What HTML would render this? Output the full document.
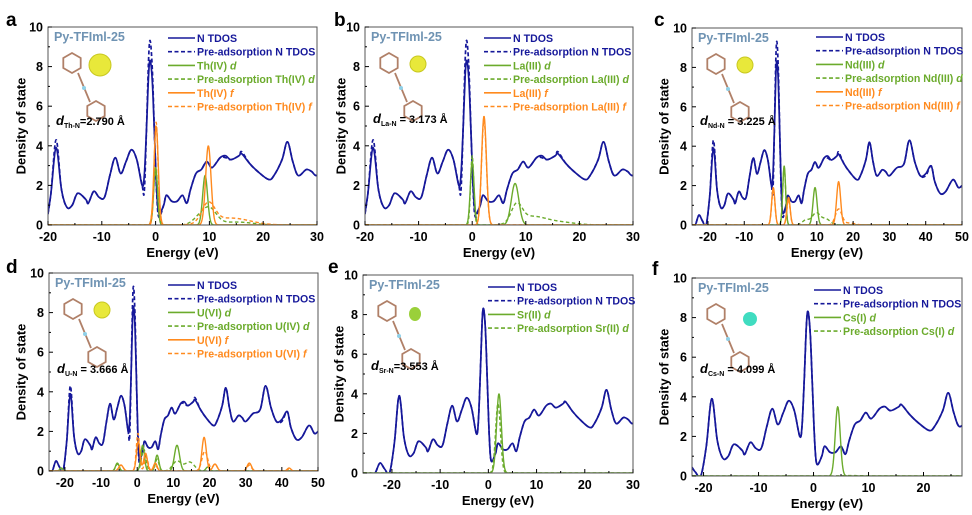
<!DOCTYPE html>
<html><head><meta charset="utf-8">
<style>
html,body{margin:0;padding:0;background:#fff;}
svg{display:block;font-family:"Liberation Sans",Arial,sans-serif;}
text{font-weight:bold;}
</style></head>
<body>
<svg id="fig" width="972" height="515" viewBox="0 0 972 515" xmlns="http://www.w3.org/2000/svg"></svg>
<script>
// ---- shared N TDOS data (energy in eV, density of state) ----
const energies = [-24.5,-23.5,-22.5,-21.5,-20.5,-19.5,-18.5,-17.5,-16.5,-15.5,
-14.5,-13,-12.5,-11.5,-10.5,-9.5,-8.5,-7.5,-6.5,-5.5,
-4.5,-3.5,-2.5,-2.1,-1.7,-1.3,-1,-0.6,-0.2,0.2,0.6,1.5,
2,3,4,5,5.8,6.5,7.5,8.5,9.5,10.5,
12,13,14,15.5,16,17.5,19,21,22,23.5,
24.5,25.5,26.5,28,29,30,32,34,35.5,37,
38.5,40,41.5,42.5,44,45.5,47.5,49,50];
const tdos = [0,0,0.5,0.2,0,1.5,3.9,1.8,0.9,1.0,
1.6,1.3,1.1,1.7,1.4,1.4,2.5,3.4,2.6,3.2,
3.8,3.3,2.0,2.5,4.8,7.6,8.3,7.2,4.5,1.8,0.6,1.0,
1.5,1.2,1.2,1.5,1.1,1.8,2.6,2.8,3.2,2.9,
3.4,3.5,3.3,3.5,3.6,3.1,2.7,2.3,2.5,3.3,
4.2,3.2,2.5,2.8,2.7,2.5,2.9,3.1,4.3,3.2,
2.5,2.6,3.0,2.2,1.6,1.7,2.3,1.9,2.0];
const preTdos = [0,0,0.5,0.2,0,1.5,4.3,1.8,0.9,1.0,
1.6,1.3,1.1,1.7,1.4,1.4,2.5,3.4,2.6,3.2,
3.8,3.3,2.0,1.7,4.8,8.4,9.3,7.8,4.5,1.6,0.4,1.0,
1.5,1.2,1.2,1.5,1.1,1.8,2.6,2.8,3.2,2.9,
3.4,3.4,3.3,3.5,3.7,3.1,2.7,2.3,2.5,3.3,
4.2,3.2,2.5,2.8,2.7,2.5,2.9,3.1,4.3,3.2,
2.5,2.5,3.0,2.2,1.6,1.7,2.3,1.9,2.0];
const yTicks = [0,2,4,6,8,10];
const xTicksA = [-20,-10,0,10,20,30];
const xTicksC = [-20,-10,0,10,20,30,40,50];
const xTicksF = [-20,-10,0,10,20];
// ---- PDOS peaks: [center eV, height, width eV] ----
const thD = [[0,2.9,0.35],[9.2,2.5,0.45]];
const thDPre = [[0,2.7,0.4],[8,0.3,1.2],[10,0.8,1.3],[15,0.15,3]];
const thF = [[0.1,5.0,0.4],[9.8,4.0,0.5]];
const thFPre = [[0.1,5.2,0.35],[9.8,1.0,1.2],[14,0.35,3.5]];
const laD = [[0,3.2,0.35],[8,2.1,0.7]];
const laDPre = [[0,3.5,0.3],[8.3,0.9,1.0],[11,0.4,2.5],[16,0.15,3]];
const laF = [[2.2,5.5,0.45]];
const laFPre = [[2.2,5.3,0.45]];
const ndD = [[1,3.0,0.4],[9.5,1.9,0.55]];
const ndDPre = [[1,2.9,0.4],[7,0.25,1],[9.8,0.6,1.1],[12.5,0.3,1.2]];
const ndF = [[-2,1.9,0.45],[2.2,1.4,0.45],[16,2.2,0.55]];
const ndFPre = [[-2,1.8,0.45],[2.2,1.3,0.45],[16,0.8,0.9],[19,0.1,1.5]];
const uD = [[-21,0.15,0.4],[-5.5,0.4,0.5],[1.5,1.3,0.5],[5.5,0.8,0.5],[11,1.3,0.7],[19.5,0.2,0.5]];
const uDPre = [[-21,0.15,0.4],[-5.5,0.35,0.5],[1.8,1.1,0.6],[5.5,0.6,0.5],[11,0.5,1.2],[14.5,0.45,1.3]];
const uF = [[-4.5,0.3,0.6],[0.3,1.5,0.5],[2.3,0.9,0.5],[5,0.4,0.5],[18.5,1.7,0.6],[21.5,0.35,0.6],[31,0.4,0.6],[42,0.15,0.5]];
const uFPre = [[-4.5,0.3,0.6],[0.2,1.9,0.45],[2.5,0.7,0.5],[5,0.3,0.5],[18.7,1.0,0.8],[21.5,0.35,0.6],[31,0.3,0.6],[42,0.1,0.5]];
const srD = [[2.2,4.0,0.5]];
const srDPre = [[2.0,3.5,0.5]];
const csD = [[4.4,3.5,0.45]];
const csDPre = [[7,0.02,2]];

const NAVY="#16189a", GREEN="#6bab2c", ORANGE="#ff8a1e";
const NS="http://www.w3.org/2000/svg";
const svg=document.getElementById('fig');
function mk(tag,attrs,parent){const e=document.createElementNS(NS,tag);for(const k in attrs)e.setAttribute(k,attrs[k]);(parent||svg).appendChild(e);return e;}

function smoothPath(pts){
  let d="M"+pts[0][0].toFixed(2)+","+pts[0][1].toFixed(2);
  for(let i=0;i<pts.length-1;i++){
    const p0=pts[Math.max(0,i-1)],p1=pts[i],p2=pts[i+1],p3=pts[Math.min(pts.length-1,i+2)];
    const c1=[p1[0]+(p2[0]-p0[0])/6,p1[1]+(p2[1]-p0[1])/6];
    const c2=[p2[0]-(p3[0]-p1[0])/6,p2[1]-(p3[1]-p1[1])/6];
    d+="C"+c1[0].toFixed(2)+","+c1[1].toFixed(2)+" "+c2[0].toFixed(2)+","+c2[1].toFixed(2)+" "+p2[0].toFixed(2)+","+p2[1].toFixed(2);
  }
  return d;
}

const panels=[
 {id:'a',L:48,R:317,T:27,B:225,x0:-20,x1:30,ticks:xTicksA,letter:[6,26],ytx:22,
  metal:'Th',sub:'Th-N',dist:'=2.790 Å',dy:98,
  series:[['N TDOS',NAVY,false,'tdos',tdos],['Pre-adsorption N TDOS',NAVY,true,'tdos',preTdos],
   ['Th(IV) ',GREEN,false,'d',thD],['Pre-adsorption Th(IV) ',GREEN,true,'d',thDPre],
   ['Th(IV) ',ORANGE,false,'f',thF],['Pre-adsorption Th(IV) ',ORANGE,true,'f',thFPre]],
  leg:[120,11]},
 {id:'b',L:365,R:633,T:27,B:225,x0:-20,x1:30,ticks:xTicksA,letter:[334,26],ytx:342,
  metal:'La',sub:'La-N',dist:' = 3.173 Å',dy:96,
  series:[['N TDOS',NAVY,false,'tdos',tdos],['Pre-adsorption N TDOS',NAVY,true,'tdos',preTdos],
   ['La(III) ',GREEN,false,'d',laD],['Pre-adsorption La(III) ',GREEN,true,'d',laDPre],
   ['La(III) ',ORANGE,false,'f',laF],['Pre-adsorption La(III) ',ORANGE,true,'f',laFPre]],
  leg:[119,11]},
 {id:'c',L:692,R:962,T:28,B:225,x0:-24.4,x1:50,ticks:xTicksC,letter:[654,26],ytx:665,
  metal:'Nd',sub:'Nd-N',dist:' = 3.225 Å',dy:97,
  series:[['N TDOS',NAVY,false,'tdos',tdos],['Pre-adsorption N TDOS',NAVY,true,'tdos',preTdos],
   ['Nd(III) ',GREEN,false,'d',ndD],['Pre-adsorption Nd(III) ',GREEN,true,'d',ndDPre],
   ['Nd(III) ',ORANGE,false,'f',ndF],['Pre-adsorption Nd(III) ',ORANGE,true,'f',ndFPre]],
  leg:[124,9]},
 {id:'d',L:49,R:318,T:273,B:471,x0:-24.4,x1:50,ticks:xTicksC,letter:[6,273],ytx:22,
  metal:'U',sub:'U-N',dist:' = 3.666 Å',dy:100,
  series:[['N TDOS',NAVY,false,'tdos',tdos],['Pre-adsorption N TDOS',NAVY,true,'tdos',preTdos],
   ['U(VI) ',GREEN,false,'d',uD],['Pre-adsorption U(IV) ',GREEN,true,'d',uDPre],
   ['U(VI) ',ORANGE,false,'f',uF],['Pre-adsorption U(VI) ',ORANGE,true,'f',uFPre]],
  leg:[119,12]},
 {id:'e',L:363,R:633,T:275,B:473,x0:-26,x1:30,ticks:xTicksA,letter:[328,273],ytx:340,
  metal:'Sr',sub:'Sr-N',dist:'=3.553 Å',dy:95,
  series:[['N TDOS',NAVY,false,'tdos',tdos],['Pre-adsorption N TDOS',NAVY,true,'tdos',tdos],
   ['Sr(II) ',GREEN,false,'d',srD],['Pre-adsorption Sr(II) ',GREEN,true,'d',srDPre]],
  leg:[125,12]},
 {id:'f',L:692,R:962,T:278,B:476,x0:-22.1,x1:27,ticks:xTicksF,letter:[652,275],ytx:665,
  metal:'Cs',sub:'Cs-N',dist:' = 4.099 Å',dy:95,
  series:[['N TDOS',NAVY,false,'tdos',tdos],['Pre-adsorption N TDOS',NAVY,true,'tdos',tdos],
   ['Cs(I) ',GREEN,false,'d',csD],['Pre-adsorption Cs(I) ',GREEN,true,'d',csDPre]],
  leg:[122,12]}
];

panels.forEach(P=>{
  const g=mk('g',{});
  
  
  const sx=v=>P.L+(v-P.x0)/(P.x1-P.x0)*(P.R-P.L);
  const sy=v=>P.B-v/10*(P.B-P.T);
  const clipId='clip'+P.id;
  const cp=mk('clipPath',{id:clipId},g);
  mk('rect',{x:P.L,y:P.T-6,width:P.R-P.L,height:P.B-P.T+6},cp);

  const lt=mk('text',{x:P.letter[0],y:P.letter[1],'font-size':19,fill:'#000'},g);
  lt.textContent=P.id;
  
  

  const sg=mk('g',{'clip-path':'url(#'+clipId+')'},g);
  P.series.forEach((s,i)=>{
    let d;
    if(s[3]==='tdos'){
      const pts=[];
      for(let k=0;k<energies.length;k++) pts.push([sx(energies[k]),sy(s[4][k])]);
      d=smoothPath(pts);
    } else {
      const peaks=s[4];
      d="";
      for(let x=P.x0;x<=P.x1+0.001;x+=0.08){
        let y=0;peaks.forEach(p=>{y+=p[1]*Math.exp(-0.5*((x-p[0])/p[2])**2);});
        d+=(d?"L":"M")+sx(x).toFixed(2)+","+sy(y).toFixed(2);
      }
    }
    const path=mk('path',{d:d,fill:'none',stroke:s[1],'stroke-width':s[3]==='tdos'?1.7:1.4,'stroke-dasharray':s[2]?(s[3]==='tdos'?'4,2.5':'3.5,2.5'):'none','stroke-linejoin':'round'},sg);
    
    
  });

  const fr=mk('rect',{x:P.L,y:P.T,width:P.R-P.L,height:P.B-P.T,fill:'none',stroke:'#555','stroke-width':1},g);
  
  
  yTicks.forEach(v=>{
    mk('line',{x1:P.L,x2:P.L+4,y1:sy(v),y2:sy(v),stroke:'#000','stroke-width':1},g);
    if(v<10) mk('line',{x1:P.L,x2:P.L+2,y1:sy(v+1),y2:sy(v+1),stroke:'#000','stroke-width':1},g);
    const t=mk('text',{x:P.L-5,y:sy(v)+4.5,'font-size':12.5,'text-anchor':'end',fill:'#000'},g);
    t.textContent=v;
    
    
  });
  P.ticks.forEach(v=>{
    mk('line',{x1:sx(v),x2:sx(v),y1:P.B,y2:P.B-4,stroke:'#000','stroke-width':1},g);
    if(sx(v+5)<P.R) mk('line',{x1:sx(v+5),x2:sx(v+5),y1:P.B,y2:P.B-2,stroke:'#000','stroke-width':1},g);
    const t=mk('text',{x:sx(v),y:P.B+16,'font-size':12.5,'text-anchor':'middle',fill:'#000'},g);
    t.textContent=v;
    
    
  });
  const xt=mk('text',{x:(P.L+P.R)/2,y:P.B+32,'font-size':13,'text-anchor':'middle',fill:'#000'},g);
  xt.textContent='Energy (eV)';
  
  
  const cy=(P.T+P.B)/2;
  const yt=mk('text',{x:P.ytx,y:cy,'font-size':13,'text-anchor':'middle',fill:'#000',transform:'rotate(-90 '+P.ytx+' '+cy+')','dominant-baseline':'middle'},g);
  yt.textContent='Density of state';
  
  

  const tt=mk('text',{x:P.L+6,y:P.T+14,'font-size':12.5,fill:'#6f93b3'},g);
  tt.textContent='Py-TFIml-25';
  
  

  const mg=mk('g',{},g);
  
  
  const hx=(cx,cy2,r)=>{let p=[];for(let k=0;k<6;k++){const a=Math.PI/6+k*Math.PI/3;p.push((cx+r*Math.cos(a)).toFixed(1)+','+(cy2+r*Math.sin(a)).toFixed(1));}return p.join(' ');};
  const ox=P.L+24, oy=P.T+30;
  mk('polygon',{points:hx(ox,oy+6,10),fill:'none',stroke:'#b08068','stroke-width':1.8},mg);
  mk('polygon',{points:hx(ox+24,oy+54,10),fill:'none',stroke:'#b08068','stroke-width':1.8},mg);
  mk('line',{x1:ox+6,y1:oy+16,x2:ox+18,y2:oy+45,stroke:'#b08068','stroke-width':1.8},mg);
  mk('circle',{cx:ox+12,cy:oy+31,r:2,fill:'#8fd0e8'},mg);
  if(P.metal==='Cs') mk('circle',{cx:P.L+58,cy:P.T+41,r:7,fill:'#40dcc0'},mg);
  else if(P.metal==='Sr'){ mk('ellipse',{cx:P.L+52,cy:P.T+39,rx:6,ry:7,fill:'#9ad03a'},mg); }
  else { const big=P.metal==='Th'; mk('ellipse',{cx:P.L+(big?52:53),cy:P.T+(big?38:37),rx:big?11:8,ry:big?11:8,fill:'#e8e83a',stroke:'#c8c820','stroke-width':1},mg); }
  const dt=mk('text',{x:P.L+8,y:P.T+P.dy,'font-size':11,fill:'#000'},g);
  dt.innerHTML='<tspan font-style="italic" font-size="13">d</tspan><tspan font-size="7" dy="3">'+P.sub+'</tspan><tspan dy="-3">'+P.dist+'</tspan>';
  
  

  P.series.forEach((s,i)=>{
    const lx=P.L+P.leg[0], ly=P.T+P.leg[1]+i*13.7;
    const lg=mk('g',{},g);
    
    
    mk('line',{x1:lx,x2:lx+27,y1:ly,y2:ly,stroke:s[1],'stroke-width':1.6,'stroke-dasharray':s[2]?'4,2.5':'none'},lg);
    const t=mk('text',{x:lx+29,y:ly+4,'font-size':10.6,fill:s[1]},lg);
    if(s[3]==='tdos') t.textContent=s[0];
    else t.innerHTML=s[0]+'<tspan font-style="italic">'+s[3]+'</tspan>';
  });
});
</script>
</body></html>
